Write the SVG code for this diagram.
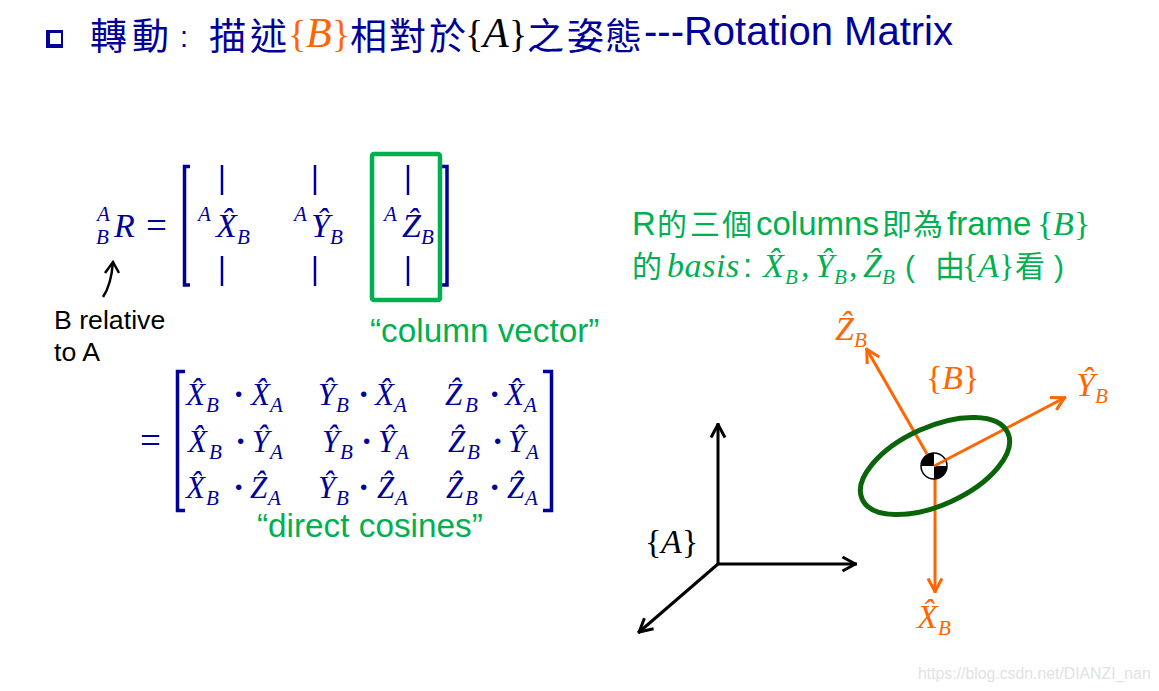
<svg xmlns="http://www.w3.org/2000/svg" width="1159" height="691" viewBox="0 0 1159 691">
<style>
.m{font-family:"Liberation Serif",serif;font-style:italic;font-size:34px}
.m2{font-family:"Liberation Serif",serif;font-style:italic;font-size:31px}
.s{font-family:"Liberation Serif",serif;font-style:italic;font-size:21px}
.u{font-family:"Liberation Serif",serif;font-size:34px}
.dot{font-family:"Liberation Serif",serif;font-size:34px;font-weight:bold}
.a{font-family:"Liberation Sans",sans-serif}
.c{font-family:"Liberation Sans","Noto Sans CJK TC",sans-serif}
.blue{fill:#000099}.green{fill:#00B050}.orange{fill:#FF6600}.black{fill:#000}
.br{fill:none;stroke:#000099;stroke-width:3.500}
.bar{stroke:#000099;stroke-width:2.500}
.ax{fill:none;stroke:#000;stroke-width:3;marker-end:url(#hk)}
.ao{fill:none;stroke:#FF6600;stroke-width:3;marker-end:url(#ho)}
</style>
<defs>
<marker id="hk" markerUnits="userSpaceOnUse" markerWidth="24" markerHeight="24" refX="17.500" refY="12" orient="auto" overflow="visible"><path d="M3,5 L16,12 L3,19" fill="none" stroke="#000" stroke-width="3" stroke-linejoin="round"/></marker>
<marker id="ho" markerUnits="userSpaceOnUse" markerWidth="24" markerHeight="24" refX="17.500" refY="12" orient="auto" overflow="visible"><path d="M3,5 L16,12 L3,19" fill="none" stroke="#FF6600" stroke-width="3" stroke-linejoin="round"/></marker>
</defs>
<rect width="1159" height="691" fill="#fff"/>

<g id="title">
<path d="M46,30H63V48H46ZM50,33V44H61V33Z" fill="#000099" fill-rule="evenodd"/>
<text class="c blue" font-size="37" y="50"><tspan x="90">轉</tspan><tspan x="132">動</tspan><tspan x="209">描</tspan><tspan x="250">述</tspan><tspan x="350">相</tspan><tspan x="389">對</tspan><tspan x="429">於</tspan><tspan x="527">之</tspan><tspan x="567">姿</tspan><tspan x="605">態</tspan></text>
<text class="c blue" font-size="29" x="180" y="47">:</text>
<text class="u orange" style="font-size:38px" x="288" y="47">{</text>
<text class="m orange" style="font-size:42px" x="306" y="47">B</text>
<text class="u orange" style="font-size:38px" x="332" y="47">}</text>
<text class="u black" style="font-size:38px" x="465" y="47">{</text>
<text class="m black" style="font-size:42px" x="483" y="47">A</text>
<text class="u black" style="font-size:38px" x="509" y="47">}</text>
<text class="a blue" font-size="40" x="644" y="45">---Rotation Matrix</text>
</g>

<g id="rotation-matrix">
<text class="s blue" x="97" y="221">A</text><text class="s blue" x="96" y="244">B</text>
<text class="m blue" x="114" y="237">R</text>
<text class="u blue" style="font-size:37px" x="146" y="238">=</text>
<path class="br" d="M190,166.500H184.500V285H190"/>
<path class="br" d="M442,166.500H447V285H442"/>
<path class="bar" d="M222,165V195M222,256V286M315,165V195M315,256V286M408,165V195M408,256V286"/>
<text class="s blue" x="198" y="221">A</text><text class="m blue" x="216" y="237">X̂</text><text class="s blue" x="237" y="244">B</text>
<text class="s blue" x="294" y="221">A</text><text class="m blue" x="311" y="237">Ŷ</text><text class="s blue" x="330" y="244">B</text>
<text class="s blue" x="384" y="221">A</text><text class="m blue" x="402" y="237">Ẑ</text><text class="s blue" x="421" y="244">B</text>
</g>

<g id="column-highlight">
<rect x="372" y="154" width="68" height="146" rx="2" fill="none" stroke="#00B050" stroke-width="4.500"/>
<text class="a green" font-size="33.300" x="370" y="342">“column vector”</text>
</g>

<g id="b-relative-note">
<text class="a black" font-size="26.700" x="54" y="329">B relative</text>
<text class="a black" font-size="26.700" x="54" y="361">to A</text>
</g>

<g id="direct-cosines">
<text class="u blue" style="font-size:37px" x="140" y="453">=</text>
<path class="br" d="M185,371.500H177.500V510.500H185"/>
<path class="br" d="M543,371.500H551.500V510.500H543"/>
<text class="m2 blue" y="405"><tspan x="186">X̂</tspan><tspan x="251">X̂</tspan><tspan x="318">Ŷ</tspan><tspan x="375">X̂</tspan><tspan x="445">Ẑ</tspan><tspan x="505">X̂</tspan></text>
<text class="s blue" y="412"><tspan x="206">B</tspan><tspan x="270">A</tspan><tspan x="336">B</tspan><tspan x="394">A</tspan><tspan x="465">B</tspan><tspan x="524">A</tspan></text>
<text class="dot blue" y="405"><tspan x="233">·</tspan><tspan x="358">·</tspan><tspan x="489">·</tspan></text>
<text class="m2 blue" y="452"><tspan x="188">X̂</tspan><tspan x="252">Ŷ</tspan><tspan x="322">Ŷ</tspan><tspan x="378">Ŷ</tspan><tspan x="448">Ẑ</tspan><tspan x="508">Ŷ</tspan></text>
<text class="s blue" y="459"><tspan x="209">B</tspan><tspan x="270">A</tspan><tspan x="340">B</tspan><tspan x="396">A</tspan><tspan x="467">B</tspan><tspan x="526">A</tspan></text>
<text class="dot blue" y="452"><tspan x="235">·</tspan><tspan x="361">·</tspan><tspan x="492">·</tspan></text>
<text class="m2 blue" y="498"><tspan x="186">X̂</tspan><tspan x="250">Ẑ</tspan><tspan x="318">Ŷ</tspan><tspan x="377">Ẑ</tspan><tspan x="446">Ẑ</tspan><tspan x="507">Ẑ</tspan></text>
<text class="s blue" y="505"><tspan x="206">B</tspan><tspan x="268">A</tspan><tspan x="336">B</tspan><tspan x="395">A</tspan><tspan x="465">B</tspan><tspan x="525">A</tspan></text>
<text class="dot blue" y="498"><tspan x="233">·</tspan><tspan x="358">·</tspan><tspan x="489">·</tspan></text>
<text class="a green" font-size="33.300" x="257" y="537">“direct cosines”</text>
</g>

<g id="basis-note">
<text class="c green" font-size="33" y="235"><tspan x="632">R</tspan><tspan x="756">columns</tspan><tspan x="947">frame</tspan></text>
<text class="c green" font-size="30" y="235"><tspan x="657">的</tspan><tspan x="690">三</tspan><tspan x="722">個</tspan><tspan x="882">即</tspan><tspan x="913">為</tspan></text>
<text class="u green" x="1037" y="235">{</text><text class="m green" x="1053" y="235">B</text><text class="u green" x="1074" y="235">}</text>
<text class="c green" font-size="30" y="277"><tspan x="632">的</tspan><tspan x="905">(</tspan><tspan x="935">由</tspan><tspan x="1015">看</tspan><tspan x="1054">)</tspan></text>
<text class="m green" x="667" y="277" letter-spacing="0.600">basis</text><text class="a green" font-size="33" x="743" y="277">:</text>
<text class="m green" x="763" y="277">X̂</text><text class="s green" x="785" y="284">B</text><text class="m green" x="801" y="277">,</text>
<text class="m green" x="815" y="277">Ŷ</text><text class="s green" x="834" y="284">B</text><text class="m green" x="849" y="277">,</text>
<text class="m green" x="863" y="277">Ẑ</text><text class="s green" x="882" y="284">B</text>
<text class="u green" x="962" y="277">{</text><text class="m green" x="978" y="277">A</text><text class="u green" x="999" y="277" style="font-size:32px">}</text>
</g>

<g id="connectors">
<path d="M103,297C109,288 112,275 113,262" fill="none" stroke="#000" stroke-width="2.500"/>
<path d="M105,273L113,262L119,273" fill="none" stroke="#000" stroke-width="2.500"/>
<path class="ax" d="M718,564V423"/>
<path class="ax" d="M717,564H857"/>
<path class="ax" d="M718,564L638,633"/>
<path class="ao" d="M927,454L866,348"/>
<path class="ao" d="M934,466L1066,397"/>
<path class="ao" d="M935,479V593"/>
</g>

<g id="frame-a">
<text class="u black" x="645" y="553">{</text><text class="m black" x="661" y="553">A</text><text class="u black" x="682" y="553">}</text>
</g>

<g id="frame-b">
<ellipse cx="935" cy="466" rx="80" ry="39" transform="rotate(-24.500 935 466)" fill="none" stroke="#0A640A" stroke-width="5"/>
<circle cx="934" cy="466" r="13" fill="#fff" stroke="#000" stroke-width="1.500"/>
<path d="M934,466V453A13,13 0 0 0 921,466ZM934,466V479A13,13 0 0 0 947,466Z" fill="#000"/>
<path d="M934,466L946,460" stroke="#FF6600" stroke-width="3"/>
<text class="u orange" x="926" y="389">{</text><text class="m orange" x="942" y="389">B</text><text class="u orange" x="963" y="389">}</text>
<text class="m orange" x="835" y="340">Ẑ</text><text class="s orange" x="854" y="347">B</text>
<text class="m orange" x="1076" y="396">Ŷ</text><text class="s orange" x="1095" y="403">B</text>
<text class="m orange" x="917" y="628">X̂</text><text class="s orange" x="938" y="635">B</text>
</g>

<text id="watermark" class="a" font-size="15.800" fill="#E2E2E2" x="918" y="679">https://blog.csdn.net/DIANZI_nan</text>
</svg>
